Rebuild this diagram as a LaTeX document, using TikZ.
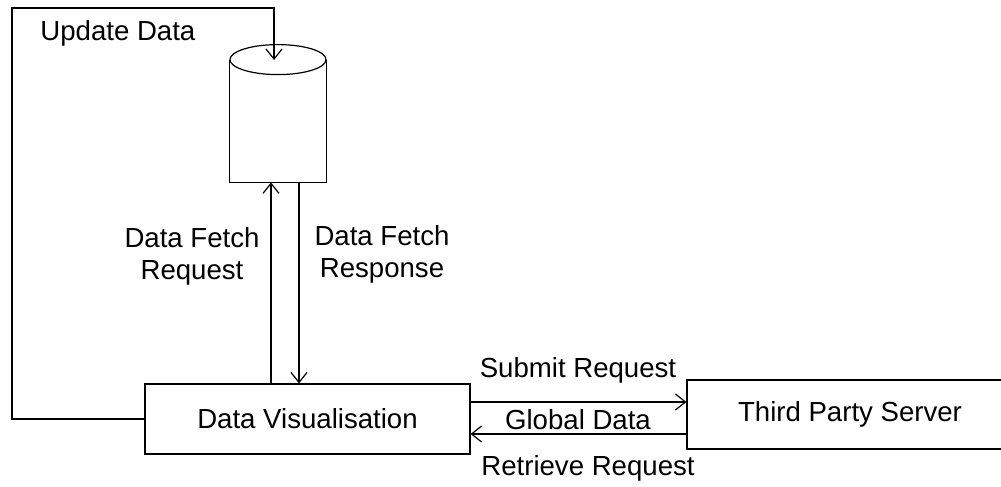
\documentclass[tikz,border=0pt]{standalone}
\usepackage{fontspec}
\setmainfont{Liberation Sans}
\usetikzlibrary{arrows.meta, positioning, calc}
\tikzstyle{box} = [rectangle, draw, line width=0.6pt, minimum height=35pt, inner sep=0pt, font=\fontsize{13.8}{16}\selectfont]
\tikzstyle{arrow} = [line width=0.6pt, -{Straight Barb[length=5pt,width=8pt]}]
\tikzstyle{line} = [line width=0.6pt]
\tikzstyle{txt} = [font=\fontsize{13.8}{16}\selectfont, align=center, inner sep=0pt]

\begin{document}
\begin{tikzpicture}[x=0.5pt, y=-0.5pt]
    \clip (0,0) rectangle (1001,487);

    % Boxes
    \node (viz) [box, minimum width=162.5pt] at (307.5,419) {Data Visualisation};
    \node (tps) [box, minimum width=163pt, minimum height=34.5pt] at (850,414.5) {Third Party Server};

    % Database
    \node (db) [minimum width=48pt, minimum height=61pt, inner sep=0pt] at (278,121) {};
    \draw [line] (db.north west) -- (db.south west) -- (db.south east) -- (db.north east);
    \draw [line] (db.north) ellipse [x radius=24pt, y radius=7.5pt];

    % Helper coordinates
    \coordinate (fb) at (12,8);
    \coordinate (top) at (274,60);
    \coordinate (req) at (271,0);
    \coordinate (res) at (299,0);
    \coordinate (sub) at (0,402);
    \coordinate (glob) at (0,434);

    % Arrows
    \draw [arrow] (viz.west) -| (fb) -| (top);
    \draw [arrow] (viz.north -| req) -- (db.south -| req);
    \draw [arrow] (db.south -| res) -- (viz.north -| res);
    \draw [arrow] (viz.east |- sub) -- (tps.west |- sub);
    \draw [arrow] (tps.west |- glob) -- (viz.east |- glob);

    % Labels
    \node (upd) [txt, anchor=west] at (40,33) {Update Data};
    \node (reqlbl) [txt] at (192,256) {Data Fetch\\Request};
    \node (reslbl) [txt] at (382,254) {Data Fetch\\Response};
    \node (sublbl) [txt] at (578,370) {Submit Request};
    \node (globlbl) [txt] at (578,420) {Global Data};
    \node (retlbl) [txt] at (588,468) {Retrieve Request};
\end{tikzpicture}
\end{document}
